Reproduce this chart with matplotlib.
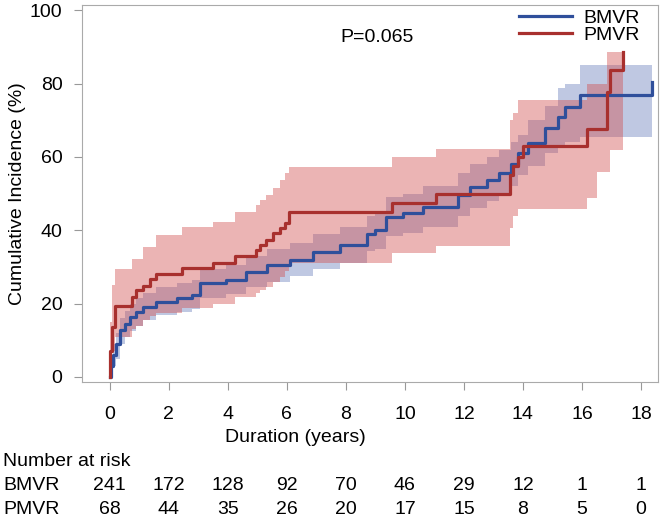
import numpy as np
import matplotlib
matplotlib.use('Agg')
import matplotlib.pyplot as plt

plt.rcParams['font.family'] = ['Liberation Sans', 'DejaVu Sans']

# BMVR cumulative incidence (step curve) with confidence band
bm_t = [0, 0.05, 0.1, 0.2, 0.34, 0.5, 0.68, 0.9, 1.12, 1.58, 2.26, 2.77, 3.05, 3.95, 4.63, 5.31,
        6.1, 6.89, 7.8, 8.7, 9.0, 9.37, 9.94, 10.6, 11.8, 12.2, 12.8, 13.2, 13.6, 13.85, 14.18,
        14.75, 15.2, 15.42, 15.93, 18.36]
bm_v = [0, 3, 6, 9, 12.8, 14.5, 16.4, 17.8, 19.2, 20.5, 21.4, 22.3, 25.5, 26.4, 28.7, 30.5,
        31.9, 34.1, 36.0, 39.1, 40.0, 43.7, 44.6, 46.4, 49.6, 51.8, 53.7, 55.5, 58.0, 61.0, 63.7,
        67.8, 70.9, 73.6, 76.8, 80.5]
bm_hi = [0, 6, 9, 12, 16, 18, 20, 21.5, 23, 24.5, 25.5, 26.5, 29.5, 30.5, 33, 35,
         36.5, 39, 41, 44, 45, 49, 50, 52, 55.5, 58, 60, 62, 64, 66, 70,
         74, 78.7, 80, 85, 87.7]
bm_lo = [0, 1, 3, 5, 9, 11, 12.5, 14, 15.5, 17, 17.8, 18.5, 21.5, 22.5, 24.5, 26,
         27.5, 29.5, 31.2, 34.3, 35, 38.5, 39.3, 41, 44, 46, 48, 49.5, 52, 55, 57.5,
         61, 63, 64, 65.4, 65.4]

# PMVR cumulative incidence with confidence band
pm_t = [0, 0.02, 0.06, 0.17, 0.74, 0.9, 1.12, 1.36, 1.56, 2.43, 3.5, 4.24, 4.97, 5.08, 5.3,
        5.54, 5.76, 5.93, 6.08, 9.55, 11.05, 13.56, 13.65, 13.85, 14.0, 16.16, 16.5, 16.84,
        16.95, 17.4]
pm_v = [0, 7, 13.5, 19.3, 21.9, 23.7, 24.8, 26.7, 28.0, 29.6, 31.1, 33.0, 34.6, 36.0, 37.3,
        39.2, 40.5, 42.0, 45.0, 47.5, 50.0, 55.0, 57.5, 60.0, 63.0, 67.7, 67.7, 77.7,
        83.6, 88.6]
pm_hi = [0, 15, 25, 29.5, 32.3, 32.3, 35.5, 35.5, 38.6, 40.9, 42.3, 45, 47, 48.2, 49.6,
         51.4, 53.6, 55.5, 57.3, 60, 62.3, 70, 72, 75.5, 75.5, 80, 80, 88.6,
         88.6, 88.6]
pm_lo = [0, 2, 7, 11, 13, 14, 15.5, 16.5, 17.4, 18.8, 20, 21.9, 23, 23.7, 24.5,
         26, 27.3, 29, 31, 33.7, 35.7, 40.5, 44, 45.9, 45.9, 48.7, 56, 56,
         61.8, 65.4]

ticks = [0, 2, 4, 6, 8, 10, 12, 14, 16, 18]
risk_bmvr = [241, 172, 128, 92, 70, 46, 29, 12, 1, 1]
risk_pmvr = [68, 44, 35, 26, 20, 17, 15, 8, 5, 0]

blue = '#2f4f9b'
red = '#a8302e'
fs = 14

fig = plt.figure(figsize=(6.6, 5.17), dpi=100)
ax = fig.add_axes([0.124, 0.261, 0.873, 0.729])

ax.fill_between(bm_t, bm_lo, bm_hi, step='post', color='#4a64ad', alpha=0.35, lw=0)
ax.fill_between(pm_t, pm_lo, pm_hi, step='post', color='#d04c4c', alpha=0.42, lw=0)
ax.step(bm_t, bm_v, where='post', color=blue, lw=2.3, label='BMVR')
ax.step(pm_t, pm_v, where='post', color=red, lw=2.3, label='PMVR')

ax.set_xlim(-0.95, 18.58)
ax.set_ylim(-1.4, 101.4)
ax.set_xticks(ticks)
ax.set_yticks([0, 20, 40, 60, 80, 100])
ax.tick_params(axis='both', direction='out', length=6, color='#999999', labelsize=fs)
ax.tick_params(axis='x', pad=11)
ax.tick_params(axis='y', pad=8)
for s in ax.spines.values():
    s.set_color('#aaaaaa')
ax.set_ylabel('Cumulative Incidence (%)', fontsize=fs)
ax.yaxis.set_label_coords(-0.097, 0.5)

ax.text(7.8, 92.6, 'P=0.065', fontsize=fs, va='center', ha='left')
ax.legend(loc='upper right', bbox_to_anchor=(0.975, 1.0), frameon=False, fontsize=fs,
          handlelength=2.7, labelspacing=0.0, borderaxespad=0.1, borderpad=0.1,
          handletextpad=0.6)

fig.text(295 / 660, 1 - 437 / 517, 'Duration (years)', fontsize=fs, ha='center', va='center')
fig.text(3 / 660, 1 - 461 / 517, 'Number at risk', fontsize=fs, ha='left', va='center')
for row, name, vals in [(486, 'BMVR', risk_bmvr), (509, 'PMVR', risk_pmvr)]:
    fig.text(3 / 660, 1 - row / 517, name, fontsize=fs, ha='left', va='center')
    for t, n in zip(ticks, vals):
        xd = ax.transData.transform((t, 0))[0]
        xf = fig.transFigure.inverted().transform((xd, 0))[0]
        fig.text(xf, 1 - row / 517, str(n), fontsize=fs, ha='center', va='center')

fig.savefig('out.png', dpi=100)
